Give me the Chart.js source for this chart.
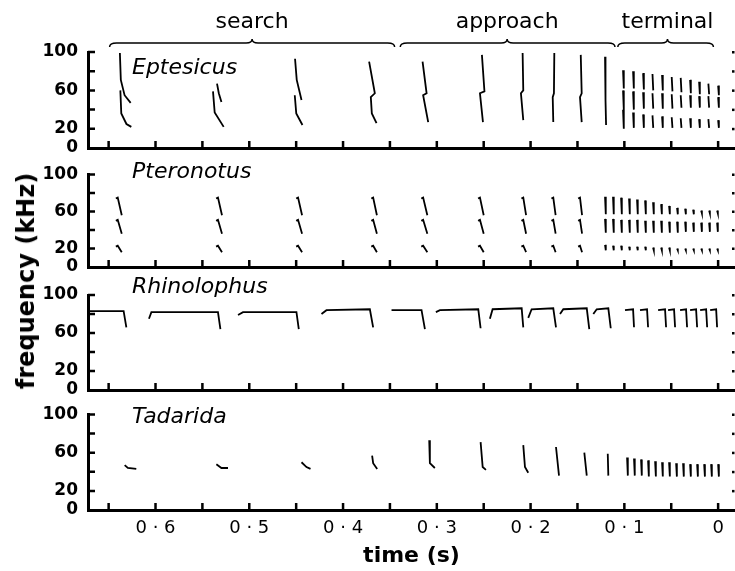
<!DOCTYPE html>
<html>
<head>
<meta charset="utf-8">
<script src="https://cdn.jsdelivr.net/npm/chart.js@4.4.0/dist/chart.umd.min.js"></script>
<style>
  html, body { margin: 0; padding: 0; background: #fff; }
  #figure { position: relative; width: 735px; height: 571px; overflow: hidden; }
  #figure canvas { position: absolute; left: 0; }
  #ytitle {
    position: absolute; left: 26px; top: 281px;
    transform: translate(-50%, -50%) rotate(-90deg);
    font: bold 24px 'DejaVu Sans'; white-space: nowrap; color: #000;
  }
</style>
</head>
<body>
<div id="figure">
  <canvas id="ept" width="735" height="168" style="top:0px"></canvas>
  <canvas id="pte" width="735" height="131" style="top:156px"></canvas>
  <canvas id="rhi" width="735" height="138" style="top:272px"></canvas>
  <canvas id="tad" width="735" height="175" style="top:396px"></canvas>
  <div id="ytitle">frequency (kHz)</div>
</div>
<script>
// time axis (s), reversed: 0 is the end of the pursuit
const timeMin = -0.018;
const timeMax = 0.672;
const timeTickMarks = [0, 0.05, 0.1, 0.15, 0.2, 0.25, 0.3, 0.35, 0.4, 0.45, 0.5, 0.55, 0.6, 0.65];
const timeTickValues = [0, 0.1, 0.2, 0.3, 0.4, 0.5, 0.6];
const timeTickLabels = ['0', '0 · 1', '0 · 2', '0 · 3', '0 · 4', '0 · 5', '0 · 6'];
const freqTickMarks = [0, 20, 40, 60, 80, 100];
const freqLabelled = [0, 20, 60, 100];

// phases of the pursuit
const phaseNames = ['search', 'approach', 'terminal'];
const phaseStart = [0.649, 0.339, 0.107];
const phaseEnd = [0.345, 0.110, 0.005];
const phaseMid = [0.497, 0.225, 0.054];

// Eptesicus: FM sweeps, [time, kHz]; approach calls run both harmonics in one stroke
const eptesicusSweeps = [
  [[0.638, 99], [0.637, 71], [0.633, 55], [0.6265, 47]],
  [[0.6375, 60], [0.6365, 36], [0.631, 25], [0.6258, 22]],
  [[0.5344, 67], [0.5325, 57], [0.5297, 48]],
  [[0.5387, 59], [0.5369, 37], [0.5273, 22]],
  [[0.4512, 93], [0.4494, 71], [0.4443, 50]],
  [[0.4515, 55], [0.4499, 36], [0.4433, 24]],
  [[0.3722, 90], [0.3661, 57], [0.3704, 53], [0.3693, 36], [0.3643, 26]],
  [[0.3152, 90], [0.3109, 57], [0.3146, 55], [0.3092, 27]],
  [[0.2519, 97], [0.2492, 59], [0.2540, 57], [0.2508, 27]],
  [[0.2085, 99], [0.2078, 60], [0.2103, 57], [0.2078, 29]],
  [[0.1747, 99], [0.1751, 57], [0.1764, 53], [0.1758, 27]],
  [[0.1465, 97], [0.1455, 57], [0.1473, 53], [0.1455, 27]],
  [[0.1206, 95], [0.1199, 53], [0.1203, 50], [0.1195, 24]]
];
const eptesicusBuzzTimes = [0.1014, 0.0907, 0.0800, 0.0700, 0.0598, 0.0495, 0.0399, 0.0299, 0.0203, 0.0104, 0.0000];
const eptesicusBuzzH3 = [[81, 62], [80, 62], [78, 61], [77, 60], [76, 60], [74, 59], [73, 58], [71, 57], [69, 56], [67, 56], [65, 55]];
const eptesicusBuzzH2 = [[60, 40], [59, 40], [58, 41], [57, 41], [57, 41], [56, 41], [55, 42], [55, 42], [54, 42], [54, 42], [53, 42]];
const eptesicusBuzzH1 = [[40, 20], [37, 21], [35, 21], [34, 21], [33, 21], [32, 21], [31, 21], [31, 21], [30, 21], [30, 21], [29, 21]];

// Pteronotus: short CF-FM calls, three harmonics
const pteronotusOnsets = [0.6403, 0.5334, 0.4480, 0.3679, 0.3146, 0.2540, 0.2078, 0.1758, 0.1473];
const pteronotusLengths = [0.0043, 0.0043, 0.0043, 0.0040, 0.0045, 0.0040, 0.0030, 0.0025, 0.0022];
const pteronotusH3 = [75, 56];
const pteronotusH2 = [51, 36];
const pteronotusH1 = [23, 16];
const pteronotusBuzzTimes = [0.1206, 0.1121, 0.1035, 0.0950, 0.0865, 0.0779, 0.0694, 0.0608, 0.0523, 0.0438, 0.0352, 0.0267, 0.0181, 0.0096, 0.0011];
const pteronotusBuzzH3 = [[76, 57], [76, 57], [75, 57], [74, 57], [73, 57], [72, 57], [70, 57], [68, 57], [66, 57], [64, 57], [63, 57], [62, 57], [61, 58], [61, 58], [61, 58]];
const pteronotusBuzzH2 = [[52, 37], [52, 37], [51, 37], [51, 37], [51, 37], [50, 37], [50, 37], [50, 37], [49, 37], [49, 37], [49, 38], [48, 38], [48, 38], [48, 38], [48, 38]];
const pteronotusBuzzH1 = [[24, 18], [23, 18], [23, 18], [22, 18], [22, 18], [22, 18], [21, 18], [21, 18], [21, 18], [20, 18], [20, 18], [20, 18], [20, 18], [20, 18], [20, 18]];

// Rhinolophus: long CF-FM calls
const rhinolophusCalls = [
  [[0.672, 83], [0.634, 83], [0.6311, 66]],
  [[0.607, 75], [0.6044, 82], [0.5334, 82], [0.5308, 64]],
  [[0.512, 79], [0.5067, 82], [0.4497, 82], [0.4472, 64]],
  [[0.423, 80], [0.4177, 84], [0.3714, 85], [0.3679, 66]],
  [[0.3483, 84], [0.3163, 84], [0.3127, 64]],
  [[0.301, 82], [0.2967, 84], [0.2558, 85], [0.2533, 65]],
  [[0.2434, 75], [0.2405, 85], [0.2095, 86], [0.2078, 66]],
  [[0.2025, 76], [0.1989, 85], [0.1758, 86], [0.1729, 66]],
  [[0.1686, 80], [0.1651, 85], [0.1401, 86], [0.1374, 64]],
  [[0.1331, 80], [0.1295, 85], [0.1171, 86], [0.1145, 65]],
  [[0.0993, 84], [0.0907, 85], [0.0897, 66]],
  [[0.0833, 84], [0.0758, 85], [0.0747, 66]],
  [[0.0640, 84], [0.0566, 85], [0.0555, 66]],
  [[0.0534, 84], [0.0470, 85], [0.0459, 66]],
  [[0.0406, 84], [0.0342, 85], [0.0331, 66]],
  [[0.0299, 84], [0.0235, 85], [0.0224, 66]],
  [[0.0192, 84], [0.0128, 85], [0.0117, 66]],
  [[0.0085, 84], [0.0021, 85], [0.0011, 66]]
];

// Tadarida: shallow FM calls
const tadaridaCalls = [
  [[0.6329, 47], [0.6295, 44], [0.6205, 43]],
  [[0.5351, 48], [0.5297, 44], [0.5227, 44]],
  [[0.4443, 50], [0.4390, 45], [0.4347, 43]],
  [[0.3690, 57], [0.3679, 49], [0.3636, 43]],
  [[0.3081, 73], [0.3074, 49], [0.3021, 44]],
  [[0.2533, 71], [0.2511, 45], [0.2476, 42]],
  [[0.2078, 68], [0.2060, 45], [0.2025, 39]],
  [[0.1729, 66], [0.1697, 36]],
  [[0.1427, 60], [0.1401, 36]],
  [[0.1177, 59], [0.1171, 36]]
];
const tadaridaBuzzTimes = [0.0971, 0.0897, 0.0822, 0.0747, 0.0672, 0.0598, 0.0523, 0.0448, 0.0374, 0.0299, 0.0224, 0.0149, 0.0075, 0.0000];
const tadaridaBuzz = [[55, 36], [54, 36], [53, 36], [52, 35], [51, 35], [50, 35], [50, 35], [49, 35], [49, 35], [48, 35], [48, 35], [48, 35], [48, 35], [48, 35]];

function buzz(times, bands) {
  const segs = [];
  times.forEach((t, i) => bands.forEach(b => segs.push([[t, b[i][0]], [t - 0.0008, b[i][1]]])));
  return segs;
}

function cfFm(onsets, lengths, bands) {
  const segs = [];
  onsets.forEach((t, i) => bands.forEach(b => {
    segs.push([[t + 0.002, b[0] - 1], [t, b[0]], [t - lengths[i], b[1]]]);
  }));
  return segs;
}

function toPoints(segments) {
  const pts = [];
  segments.forEach(seg => {
    seg.forEach(([t, f]) => pts.push({ x: t, y: f }));
    pts.push({ x: seg[seg.length - 1][0], y: null });
  });
  return pts;
}

const frame = {
  id: 'frame',
  afterDraw(chart, args, opts) {
    const { ctx, chartArea: a, scales: { x, y } } = chart;
    ctx.save();
    ctx.strokeStyle = '#000';
    ctx.fillStyle = '#000';
    ctx.lineWidth = 2.5;
    ctx.beginPath();
    x.ticks.forEach(tk => {
      const px = x.getPixelForValue(tk.value);
      ctx.moveTo(px, a.bottom);
      ctx.lineTo(px, a.bottom - 7);
    });
    y.ticks.forEach(tk => {
      if (tk.value <= 0) return;
      const py = y.getPixelForValue(tk.value);
      ctx.moveTo(a.left, py);
      ctx.lineTo(a.left + 7, py);
    });
    ctx.stroke();
    y.ticks.forEach(tk => {
      if (tk.value <= 0) return;
      ctx.fillRect(a.right - 3, y.getPixelForValue(tk.value) - 1, 2.5, 2.5);
    });

    ctx.font = 'italic 22px "DejaVu Sans"';
    ctx.textAlign = 'left';
    ctx.textBaseline = 'alphabetic';
    ctx.fillText(opts.name, a.left + 44, a.top + opts.dy);

    if (opts.phases) {
      ctx.lineWidth = 1.5;
      ctx.font = '22px "DejaVu Sans"';
      ctx.textAlign = 'center';
      ctx.textBaseline = 'middle';
      const yl = 43;
      phaseNames.forEach((name, i) => {
        const x0 = x.getPixelForValue(phaseStart[i]);
        const x1 = x.getPixelForValue(phaseEnd[i]);
        const xm = x.getPixelForValue(phaseMid[i]);
        ctx.beginPath();
        ctx.moveTo(x0, yl + 4);
        ctx.quadraticCurveTo(x0, yl, x0 + 7, yl);
        ctx.lineTo(xm - 6, yl);
        ctx.quadraticCurveTo(xm, yl, xm, yl - 4);
        ctx.quadraticCurveTo(xm, yl, xm + 6, yl);
        ctx.lineTo(x1 - 7, yl);
        ctx.quadraticCurveTo(x1, yl, x1, yl + 4);
        ctx.stroke();
        ctx.fillText(name, xm, 22);
      });
    }
    ctx.restore();
  }
};

function makePanel(id, segments, cfg) {
  const tickFont = { family: "'DejaVu Sans'", size: 17, weight: 'bold', lineHeight: 1 };
  return new Chart(document.getElementById(id), {
    type: 'line',
    data: {
      datasets: [{
        data: toPoints(segments),
        borderColor: '#000',
        borderWidth: 1.8,
        pointRadius: 0,
        spanGaps: false,
        tension: 0
      }]
    },
    options: {
      responsive: false,
      animation: false,
      events: [],
      layout: { autoPadding: false, padding: { top: cfg.padTop, left: 0, right: 0, bottom: 0 } },
      plugins: {
        legend: { display: false },
        tooltip: { enabled: false },
        frame: { name: cfg.name, dy: cfg.dy, phases: !!cfg.phases }
      },
      scales: {
        x: {
          type: 'linear',
          reverse: true,
          min: timeMin,
          max: timeMax,
          border: { display: true, color: '#000', width: 3 },
          grid: { display: false, drawTicks: false },
          afterBuildTicks: s => { s.ticks = timeTickMarks.map(v => ({ value: v })); },
          ticks: {
            display: !!cfg.labels,
            autoSkip: false,
            maxRotation: 0,
            padding: 8,
            color: '#000',
            font: { family: "'DejaVu Sans'", size: 18 },
            callback: v => {
              const i = timeTickValues.findIndex(u => Math.abs(u - v) < 1e-6);
              return i < 0 ? '' : timeTickLabels[i];
            }
          },
          title: {
            display: !!cfg.labels,
            text: 'time (s)',
            color: '#000',
            font: { family: "'DejaVu Sans'", size: 22, weight: 'bold' },
            padding: { top: 0, bottom: 2 }
          },
          afterFit: s => { s.height = cfg.axisH; }
        },
        y: {
          min: 0,
          max: 100,
          border: { display: true, color: '#000', width: 3 },
          grid: { display: false, drawTicks: false },
          afterBuildTicks: s => { s.ticks = freqTickMarks.map(v => ({ value: v })); },
          ticks: {
            autoSkip: false,
            padding: 10,
            color: '#000',
            font: tickFont,
            callback: v => (freqLabelled.includes(v) ? String(v) : '')
          },
          afterFit: s => { s.width = 88; }
        }
      }
    },
    plugins: [frame]
  });
}

makePanel('ept', eptesicusSweeps.concat(
  buzz(eptesicusBuzzTimes, [eptesicusBuzzH3, eptesicusBuzzH2, eptesicusBuzzH1])
), { padTop: 52, axisH: 20, name: 'Eptesicus', dy: 22, phases: true });

makePanel('pte', cfFm(pteronotusOnsets, pteronotusLengths, [pteronotusH3, pteronotusH2, pteronotusH1]).concat(
  buzz(pteronotusBuzzTimes, [pteronotusBuzzH3, pteronotusBuzzH2, pteronotusBuzzH1])
), { padTop: 18, axisH: 20, name: 'Pteronotus', dy: 3 });

makePanel('rhi', rhinolophusCalls, { padTop: 23, axisH: 20, name: 'Rhinolophus', dy: -2 });

makePanel('tad', tadaridaCalls.concat(buzz(tadaridaBuzzTimes, [tadaridaBuzz])),
  { padTop: 18, axisH: 61, name: 'Tadarida', dy: 8, labels: true });
</script>
</body>
</html>
